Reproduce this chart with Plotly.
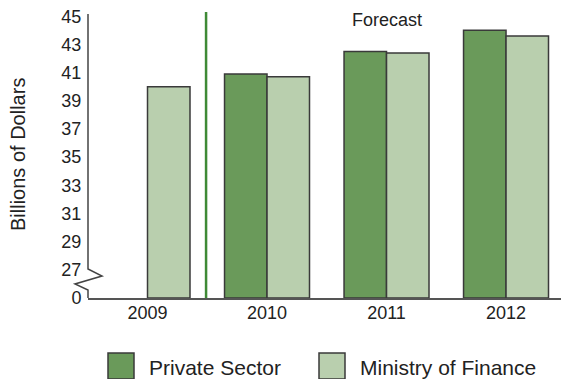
import plotly.graph_objects as go

# Forecasts of the budget figure, billions of dollars
years = ["2009", "2010", "2011", "2012"]
private_sector = [None, 40.9, 42.5, 44.0]
ministry_of_finance = [40.0, 40.7, 42.4, 43.6]

# Broken value axis: 0, then 27..45 in steps of 2
tick_labels = [0, 27, 29, 31, 33, 35, 37, 39, 41, 43, 45]
BREAK_OFFSET = 25  # values above the break are shifted down by this amount

DARK_GREEN = "#6a9a5a"
LIGHT_GREEN = "#b9cfae"
EDGE = "#3a3a3a"
TEXT = "#222222"
FONT = "Liberation Sans, Arial, Helvetica, sans-serif"

W, H = 561, 379
L, R, T, B = 88, 0, 14, 81
plot_w = W - L - R
plot_h = H - T - B


def shift(v):
    return None if v is None else v - BREAK_OFFSET


def tick_pos(v):
    return 0 if v == 0 else v - BREAK_OFFSET


def px_x(px):
    return (px - L) / plot_w


def px_y(py):
    return (H - B - py) / plot_h


fig = go.Figure()
fig.add_trace(go.Bar(
    x=years, y=[shift(v) for v in private_sector], name="Private Sector",
    marker=dict(color=DARK_GREEN, line=dict(color=EDGE, width=1.5)),
    customdata=private_sector, hovertemplate="%{x}: %{customdata}<extra>Private Sector</extra>",
))
fig.add_trace(go.Bar(
    x=years, y=[shift(v) for v in ministry_of_finance], name="Ministry of Finance",
    marker=dict(color=LIGHT_GREEN, line=dict(color=EDGE, width=1.5)),
    customdata=ministry_of_finance, hovertemplate="%{x}: %{customdata}<extra>Ministry of Finance</extra>",
))

y_top = 20.16
shapes = [
    # value axis with a zigzag break between 0 and 27
    dict(type="path", xref="paper", yref="paper",
         path=(f"M 0 1 L 0 {px_y(269)} L {px_x(102)} {px_y(276)} "
               f"L {px_x(75)} {px_y(284)} L 0 {px_y(290)} L 0 0"),
         line=dict(color="#444444", width=1.5)),
    # forecast divider
    dict(type="line", xref="x", yref="paper", x0=0.49, x1=0.49, y0=0, y1=px_y(12),
         line=dict(color="#3f8a36", width=2.5)),
    # legend swatches
    dict(type="rect", xref="paper", yref="paper",
         x0=px_x(108), x1=px_x(134), y0=px_y(379), y1=px_y(353),
         fillcolor=DARK_GREEN, line=dict(color=EDGE, width=1.5)),
    dict(type="rect", xref="paper", yref="paper",
         x0=px_x(319), x1=px_x(345), y0=px_y(379), y1=px_y(353),
         fillcolor=LIGHT_GREEN, line=dict(color=EDGE, width=1.5)),
]

annotations = [
    dict(text="Forecast", xref="x", yref="paper", x=2, y=px_y(20),
         showarrow=False, xanchor="center", yanchor="middle",
         font=dict(size=18, color=TEXT, family=FONT)),
    dict(text="Billions of Dollars", xref="paper", yref="paper",
         x=px_x(18), y=px_y(155), textangle=-90, showarrow=False,
         xanchor="center", yanchor="middle",
         font=dict(size=20, color=TEXT, family=FONT)),
    dict(text="Private Sector", xref="paper", yref="paper",
         x=px_x(147), y=px_y(367), showarrow=False, xanchor="left", yanchor="middle",
         font=dict(size=21, color=TEXT, family=FONT)),
    dict(text="Ministry of Finance", xref="paper", yref="paper",
         x=px_x(358), y=px_y(367), showarrow=False, xanchor="left", yanchor="middle",
         font=dict(size=21, color=TEXT, family=FONT)),
]

fig.update_layout(
    width=W, height=H,
    margin=dict(l=L, r=R, t=T, b=B, pad=0),
    paper_bgcolor="white", plot_bgcolor="white",
    barmode="group", bargap=0.289, bargroupgap=0,
    showlegend=False,
    shapes=shapes, annotations=annotations,
    font=dict(family=FONT, color=TEXT, size=18),
)
fig.update_xaxes(
    type="category", range=[-0.498, 3.46],
    showline=True, linecolor="#555555", linewidth=1.5,
    showgrid=False, zeroline=False,
    ticks="", ticklabelstandoff=-2,
    tickfont=dict(size=18, color=TEXT, family=FONT),
)
fig.update_yaxes(
    range=[0, y_top],
    tickvals=[tick_pos(v) for v in tick_labels],
    ticktext=[str(v) for v in tick_labels],
    showline=False, showgrid=False, zeroline=False,
    ticks="outside", ticklen=2, tickcolor="rgba(0,0,0,0)",
    tickfont=dict(size=18, color=TEXT, family=FONT),
)

fig.write_html("out.html")
